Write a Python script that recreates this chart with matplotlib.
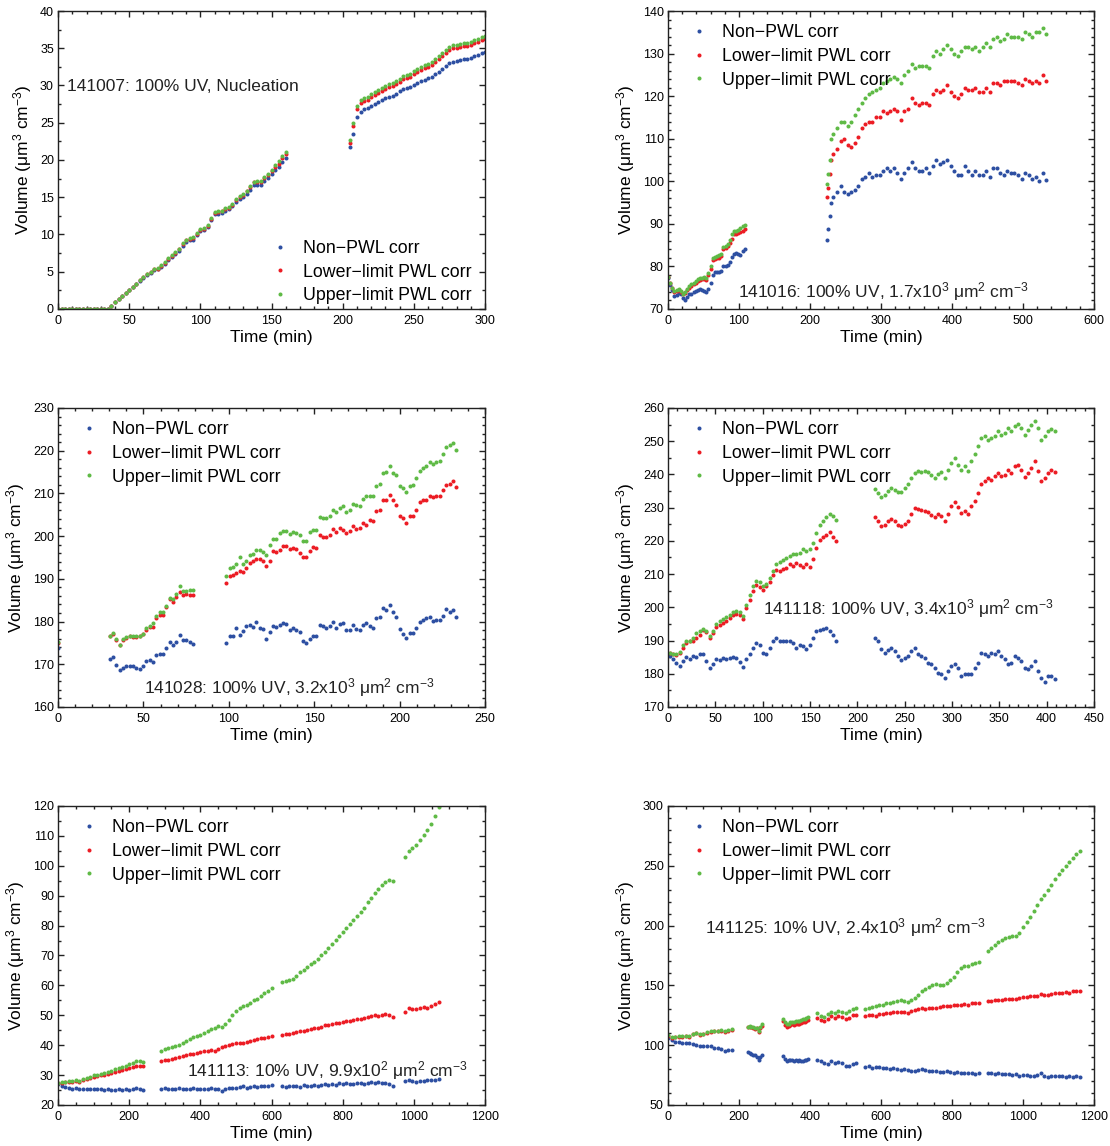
"""
Six panels: aerosol volume vs. time for the chamber runs, with and without
particle wall-loss (PWL) correction. Values were read off the original figure.
"""
import numpy as np
import matplotlib
matplotlib.use("Agg")
import matplotlib.pyplot as plt
from matplotlib.ticker import MultipleLocator

plt.rcParams["font.family"] = ["Liberation Sans", "DejaVu Sans"]
plt.rcParams["mathtext.default"] = "regular"

BLUE = "#2D4FA2"
RED = "#EC1C24"
GREEN = "#5FBA46"
LABELS = ["Non\u2212PWL corr", "Lower\u2212limit PWL corr", "Upper\u2212limit PWL corr"]

# ---------------- 141007 ----------------
t1a = np.linspace(0, 160, 65)
b1a = [0.0] * 15 + [0.4, 1.0, 1.4, 1.8, 2.2, 2.6, 2.9, 3.3, 3.8, 4.2, 4.6, 4.8, 5.2, 5.3, 5.7, 6.1, 6.6, 7.0, 7.4, 7.8,
                    8.5, 9.0, 9.2, 9.3, 9.9, 10.4, 10.6, 11.0, 11.9, 12.7, 12.8, 12.9, 13.2, 13.4, 13.8, 14.3, 14.7, 15.0, 15.5, 16.0,
                    16.6, 16.7, 16.7, 17.2, 17.6, 18.1, 18.6, 19.0, 19.7, 20.3]
r1a = [0.0] * 15 + [0.4, 1.0, 1.4, 1.8, 2.2, 2.6, 3.0, 3.4, 3.9, 4.3, 4.7, 4.9, 5.3, 5.4, 5.8, 6.2, 6.7, 7.1, 7.5, 8.0,
                    8.7, 9.2, 9.4, 9.5, 10.1, 10.6, 10.8, 11.2, 12.1, 12.9, 13.0, 13.1, 13.4, 13.6, 14.0, 14.6, 15.0, 15.3, 15.8, 16.4,
                    17.0, 17.1, 17.1, 17.6, 18.0, 18.5, 19.1, 19.5, 20.2, 20.8]
g1a = [0.0] * 15 + [0.4, 1.0, 1.4, 1.8, 2.2, 2.6, 3.0, 3.4, 3.9, 4.3, 4.7, 5.0, 5.4, 5.5, 5.9, 6.3, 6.8, 7.2, 7.6, 8.1,
                    8.8, 9.3, 9.5, 9.6, 10.2, 10.7, 10.9, 11.3, 12.2, 13.0, 13.1, 13.2, 13.5, 13.7, 14.1, 14.7, 15.1, 15.4, 15.9, 16.5,
                    17.1, 17.2, 17.2, 17.7, 18.1, 18.7, 19.3, 19.8, 20.5, 21.1]
t1b = np.linspace(205, 300, 39)
b1b = [21.8, 23.5, 25.8, 26.5, 26.8, 27.0, 27.3, 27.5, 27.8, 28.0, 28.3, 28.5, 28.6, 28.9, 29.2, 29.5, 29.6, 29.8, 30.0, 30.3,
       30.6, 30.8, 31.0, 31.2, 31.5, 31.8, 32.2, 32.6, 33.0, 33.2, 33.3, 33.4, 33.5, 33.5, 33.7, 33.9, 34.1, 34.3, 34.5]
r1b = [22.3, 24.5, 26.8, 27.6, 27.9, 28.1, 28.4, 28.7, 29.0, 29.2, 29.5, 29.8, 29.9, 30.2, 30.5, 30.9, 31.0, 31.2, 31.5, 31.8,
       32.1, 32.3, 32.5, 32.8, 33.1, 33.5, 33.9, 34.3, 34.8, 35.0, 35.1, 35.2, 35.3, 35.3, 35.5, 35.7, 35.9, 36.1, 36.3]
g1b = [22.7, 25.0, 27.2, 28.0, 28.3, 28.5, 28.8, 29.1, 29.4, 29.6, 29.9, 30.2, 30.3, 30.6, 30.9, 31.3, 31.4, 31.6, 31.9, 32.2,
       32.5, 32.7, 32.9, 33.2, 33.5, 33.9, 34.3, 34.7, 35.2, 35.4, 35.5, 35.6, 35.7, 35.7, 35.9, 36.1, 36.3, 36.5, 36.7]

# ---------------- 141016 ----------------
t2a = np.linspace(0, 108, 37)
b2a = [77.3, 75.7, 74.5, 73.0, 73.2, 73.8, 73.5, 72.5, 72.2, 72.8, 73.4, 73.6, 74.1, 74.3, 74.5, 74.6, 74.5, 74.3, 74.1, 74.8,
       76.1, 78.0, 78.8, 78.7, 78.6, 78.9, 80.0, 80.2, 80.4, 81.0, 82.3, 82.8, 83.1, 82.8, 82.7, 83.5, 84.0]
r2a = [77.4, 76.0, 75.0, 74.0, 74.2, 74.5, 74.0, 73.5, 73.8, 74.5, 75.0, 75.5, 75.8, 76.2, 76.5, 76.8, 77.0, 77.0, 76.8, 78.0,
       79.5, 81.5, 81.8, 82.0, 82.0, 82.5, 84.0, 84.3, 84.8, 85.5, 86.5, 87.5, 87.5, 87.8, 88.0, 88.3, 88.8]
g2a = [77.5, 76.2, 75.0, 74.2, 74.4, 74.6, 74.2, 73.6, 74.0, 74.8, 75.3, 75.8, 76.2, 76.6, 77.0, 77.2, 77.3, 77.4, 77.2, 78.5,
       80.0, 82.0, 82.2, 82.4, 82.6, 83.0, 84.5, 84.8, 85.3, 86.3, 87.5, 88.3, 88.3, 88.6, 89.0, 89.5, 89.8]
t2b = np.concatenate([[224, 226, 228, 230], np.linspace(233, 533, 61)])
b2b = [86.3, 88.7, 91.8, 95.0,
       96.3, 97.5, 99.0, 97.5, 97.0, 97.5, 98.0, 99.0, 100.5, 101.0, 102.0, 101.0, 101.5, 101.5, 102.5, 103.0, 102.5, 103.0, 102.0, 100.5,
       102.0, 103.0, 104.5, 103.0, 102.5, 102.5, 103.0, 102.0, 103.5, 105.0, 104.0, 104.5, 105.0, 103.5, 102.5, 101.5, 101.5, 103.5, 102.5, 101.5,
       102.5, 101.5, 101.5, 102.5, 101.0, 103.0, 103.0, 102.0, 101.5, 102.5, 102.0, 102.0, 101.5, 100.5, 102.0, 101.5, 100.5, 101.0, 100.0, 102.0, 100.2]
r2b = [96.2, 98.5, 101.8, 105.0,
       106.5, 107.5, 109.5, 110.0, 108.5, 108.0, 109.0, 110.5, 112.5, 113.5, 114.0, 114.0, 115.0, 115.0, 116.5, 116.0, 116.5, 117.0, 116.5, 114.5,
       116.5, 117.0, 119.5, 118.5, 118.0, 118.5, 118.5, 118.0, 120.5, 121.5, 121.0, 121.5, 122.5, 121.0, 120.0, 119.5, 120.5, 122.0, 121.5, 121.5,
       122.0, 121.0, 121.0, 122.0, 121.0, 123.0, 123.0, 122.5, 123.5, 123.5, 123.5, 123.5, 123.0, 122.5, 124.0, 123.5, 123.0, 123.5, 123.0, 125.0, 123.5]
g2b = [99.3, 101.8, 105.0, 110.0,
       111.0, 112.5, 114.0, 114.0, 113.0, 114.0, 115.5, 117.0, 118.5, 119.5, 120.5, 121.0, 121.5, 122.0, 123.0, 123.5, 124.0, 124.5, 124.0, 123.0,
       125.0, 126.0, 127.5, 126.5, 127.0, 127.0, 127.0, 126.5, 129.5, 130.5, 130.0, 131.0, 132.0, 131.0, 130.0, 129.5, 130.5, 131.5, 131.5, 131.0,
       131.5, 130.5, 131.5, 132.5, 131.5, 133.5, 134.0, 133.0, 133.5, 134.5, 134.0, 134.0, 134.0, 133.5, 135.0, 134.5, 134.0, 135.0, 135.0, 136.0, 134.5]

# ---------------- 141028 ----------------
t3a = [0.0]
b3a = [173.8]
r3a = [174.9]
g3a = [175.1]
t3b = np.linspace(30.2, 79.0, 26)
b3b = [171.2, 171.7, 169.9, 168.6, 169.1, 169.5, 169.7, 169.5, 169.2, 169.0, 169.6, 170.7, 170.9, 170.5, 172.1, 172.5, 172.3,
       173.9, 175.3, 174.6, 175.3, 176.9, 175.7, 175.6, 175.3, 174.8]
r3b = [176.5, 177.1, 175.7, 174.6, 175.6, 176.2, 176.5, 176.3, 176.3, 176.5, 177.1, 178.1, 178.7, 178.8, 180.9, 181.6, 181.6,
       183.3, 185.3, 184.5, 185.7, 187.0, 186.1, 186.5, 186.3, 186.1]
g3b = [176.6, 177.4, 175.8, 174.6, 175.8, 176.3, 176.7, 176.5, 176.5, 176.6, 177.2, 178.4, 179.0, 179.6, 181.4, 182.2, 182.2,
       183.6, 185.6, 185.2, 186.4, 188.3, 187.1, 187.1, 187.3, 187.3]
t3c = np.linspace(98.6, 233.2, 70)
b3c = [174.9, 176.5, 176.5, 178.5, 176.9, 177.7, 178.9, 179.1, 178.8, 179.8, 178.5, 178.2, 175.9, 177.5, 178.9, 178.7, 179.3, 179.6,
       179.4, 178.1, 178.5, 178.1, 177.5, 175.4, 175.0, 175.9, 176.5, 176.5, 179.3, 178.9, 178.5, 178.9, 180.0, 178.5, 179.4, 179.6,
       178.1, 178.1, 179.3, 178.3, 178.1, 179.3, 179.6, 178.9, 178.5, 180.8, 181.0, 183.2, 182.8, 183.9, 182.2, 181.1, 178.3, 177.2,
       176.1, 177.3, 177.3, 178.5, 180.0, 180.4, 180.8, 181.0, 180.2, 180.3, 180.3, 181.4, 183.0, 182.2, 182.8, 181.0]
r3c = [189.0, 190.7, 191.0, 191.4, 191.9, 191.7, 192.5, 193.7, 194.1, 194.7, 194.7, 194.2, 192.9, 194.2, 196.4, 196.3, 196.8, 197.8,
       197.8, 197.1, 197.2, 197.1, 196.0, 195.0, 195.0, 196.4, 197.4, 197.2, 200.2, 199.9, 199.9, 200.3, 201.7, 201.0, 201.9, 201.5,
       200.7, 201.1, 202.3, 201.7, 201.9, 203.1, 202.5, 203.8, 203.5, 205.8, 206.0, 208.5, 208.5, 209.7, 208.5, 207.4, 204.8, 204.2,
       203.1, 204.6, 204.8, 206.2, 208.1, 208.5, 208.5, 209.3, 209.1, 209.5, 209.5, 210.9, 211.9, 212.2, 213.0, 211.4]
g3c = [190.6, 192.5, 192.7, 193.5, 195.0, 193.5, 194.1, 195.5, 195.8, 196.8, 196.8, 196.3, 195.5, 198.0, 199.4, 199.4, 200.7, 201.3,
       201.3, 200.5, 201.0, 200.7, 200.2, 198.8, 198.9, 201.0, 201.5, 201.5, 204.4, 204.2, 204.2, 204.6, 206.0, 205.6, 206.6, 207.0,
       205.6, 206.2, 207.5, 207.2, 207.1, 208.8, 209.3, 209.5, 209.5, 211.7, 212.2, 214.8, 215.0, 216.3, 214.8, 214.4, 211.7, 211.3,
       210.3, 211.7, 212.0, 213.5, 215.3, 215.9, 216.3, 217.4, 216.9, 217.4, 217.7, 219.2, 220.8, 221.4, 221.8, 220.2]

# ---------------- 141118 ----------------
t4a = np.linspace(1.8, 177.8, 51)
b4a = [185.3, 184.3, 183.3, 182.3, 183.8, 185.0, 184.3, 185.3, 185.0, 185.8, 186.0, 183.8, 181.6, 182.8, 184.3, 184.0, 184.6,
       184.3, 184.8, 185.0, 184.6, 183.6, 182.0, 184.3, 185.8, 187.6, 189.3, 188.6, 186.3, 185.8, 187.8, 189.8, 190.8, 189.8,
       190.0, 189.8, 190.0, 189.3, 187.8, 188.8, 188.3, 187.3, 188.8, 190.8, 192.8, 193.3, 193.6, 193.8, 192.8, 191.8, 189.8]
r4a = [186.3, 185.8, 185.6, 186.3, 187.8, 189.3, 189.8, 190.0, 190.8, 191.8, 193.3, 192.6, 190.8, 192.3, 194.0, 194.8, 195.3,
       196.0, 196.8, 197.6, 198.0, 197.6, 196.6, 199.8, 202.3, 205.0, 206.6, 206.0, 205.3, 206.3, 207.6, 209.8, 211.1, 210.9,
       211.4, 211.9, 212.9, 212.4, 213.4, 212.7, 212.1, 213.1, 212.1, 214.4, 217.9, 220.4, 221.1, 221.9, 222.7, 221.1, 219.9]
g4a = [186.3, 185.8, 185.8, 186.6, 188.6, 189.8, 190.0, 190.8, 192.3, 193.0, 193.6, 192.8, 191.3, 193.0, 195.0, 195.8, 196.6,
       197.0, 197.8, 198.6, 199.0, 198.6, 197.3, 200.8, 203.6, 206.3, 207.8, 207.6, 206.3, 207.0, 208.8, 210.9, 212.9, 213.7,
       214.1, 214.9, 215.4, 215.9, 215.9, 216.4, 217.4, 216.9, 217.4, 219.4, 222.4, 224.9, 225.9, 227.1, 228.1, 227.4, 226.4]
t4b = np.linspace(218.3, 408.4, 55)
b4b = [190.8, 189.8, 187.3, 186.3, 187.0, 187.8, 186.8, 185.3, 184.0, 184.6, 185.3, 186.8, 187.6, 186.0, 185.3, 184.6, 183.3,
       182.8, 181.8, 180.3, 179.8, 178.6, 180.8, 182.3, 183.0, 181.8, 179.3, 179.8, 179.8, 179.8, 181.8, 183.3, 186.3, 185.8,
       185.3, 186.3, 185.8, 186.8, 185.3, 184.3, 182.8, 183.3, 185.3, 184.8, 183.8, 181.8, 181.3, 182.3, 183.8, 180.8, 178.8,
       177.6, 179.3, 179.3, 178.3]
r4b = [227.1, 225.9, 224.4, 224.9, 225.9, 226.7, 225.9, 224.7, 224.4, 225.1, 226.1, 228.1, 229.9, 229.7, 229.4, 228.9, 228.7,
       227.7, 227.1, 228.1, 227.4, 225.9, 228.1, 230.4, 231.7, 230.1, 228.4, 228.9, 228.1, 230.4, 231.9, 234.4, 237.1, 237.9,
       238.9, 238.4, 239.4, 240.4, 239.4, 239.9, 241.4, 240.4, 242.4, 242.9, 241.4, 239.1, 240.4, 241.9, 244.0, 240.9, 238.1,
       238.9, 240.4, 241.4, 240.7]
g4b = [235.7, 234.4, 233.1, 233.7, 234.9, 235.9, 235.4, 234.7, 234.7, 235.9, 237.1, 238.9, 240.4, 240.9, 240.7, 241.1, 240.7,
       239.9, 238.9, 240.1, 240.7, 238.9, 241.4, 243.5, 245.0, 242.9, 241.4, 242.4, 241.1, 244.0, 246.0, 248.5, 251.0, 251.5,
       250.5, 251.0, 251.5, 253.0, 252.0, 252.5, 254.0, 253.0, 254.5, 255.2, 254.0, 252.0, 253.5, 255.0, 256.2, 254.0, 250.5,
       251.5, 253.0, 253.8, 253.2]

# ---------------- 141113 ----------------
t5a = np.linspace(0, 240, 25)
b5a = [27.0, 26.5, 26.0, 25.8, 25.5, 25.6, 25.4, 25.5, 25.3, 25.5, 25.2, 25.4, 25.3, 25.0, 25.2, 25.1, 25.0, 25.3, 25.0, 25.2,
       24.9, 25.5, 25.8, 25.3, 25.0]
r5a = [27.3, 27.5, 27.6, 27.8, 27.8, 28.0, 27.8, 28.3, 28.6, 29.0, 29.4, 29.6, 29.9, 30.1, 30.4, 30.7, 31.0, 31.4, 31.7, 32.0,
       32.4, 32.6, 33.0, 33.2, 33.0]
g5a = [27.3, 27.6, 27.7, 27.9, 28.0, 28.2, 28.0, 28.6, 29.0, 29.4, 29.9, 30.1, 30.5, 30.8, 31.1, 31.5, 31.9, 32.3, 32.7, 33.0,
       33.6, 34.0, 34.6, 34.8, 34.5]
t5b = np.linspace(290, 600, 32)
b5b = [25.5, 25.8, 25.4, 25.2, 25.5, 25.6, 25.3, 25.5, 25.4, 25.6, 25.3, 25.5, 25.2, 25.4, 25.6, 25.5, 25.3, 24.6, 25.5, 25.8,
       25.6, 25.8, 26.0, 26.2, 25.8, 26.0, 26.3, 25.9, 26.2, 26.4, 26.5, 26.6]
r5b = [34.8, 35.0, 35.2, 35.4, 35.8, 36.0, 36.3, 36.6, 36.9, 37.1, 37.4, 37.6, 37.9, 38.1, 38.4, 38.2, 38.8, 39.4, 39.8, 40.0,
       40.3, 40.6, 40.8, 40.8, 41.0, 41.5, 41.8, 42.0, 42.3, 42.5, 42.8, 43.0]
g5b = [38.0, 38.6, 39.0, 39.3, 39.6, 40.2, 40.8, 41.4, 42.0, 42.6, 43.0, 43.5, 44.2, 44.8, 45.3, 45.8, 46.5, 46.0, 47.2, 48.5,
       50.0, 51.5, 52.5, 53.2, 53.6, 54.2, 55.0, 55.6, 56.5, 57.5, 58.2, 59.2]
t5c = np.linspace(630, 940, 32)
b5c = [26.3, 26.0, 26.4, 26.2, 26.5, 26.0, 26.6, 26.4, 26.5, 26.8, 26.5, 26.6, 26.9, 26.7, 27.0, 26.8, 27.2, 27.0, 27.3, 27.0,
       27.1, 27.4, 27.2, 27.0, 27.5, 27.8, 27.4, 27.6, 27.5, 27.3, 27.0, 26.2]
r5c = [43.5, 43.7, 43.9, 44.0, 44.3, 44.6, 44.8, 45.1, 45.5, 45.6, 45.8, 46.2, 46.6, 46.9, 47.1, 47.3, 47.5, 47.8, 48.0, 48.2,
       48.4, 48.6, 48.9, 49.1, 49.4, 49.8, 50.1, 49.9, 50.2, 50.4, 50.0, 49.5]
g5c = [61.0, 61.3, 61.8, 62.2, 63.2, 64.4, 65.0, 66.0, 67.0, 67.8, 68.8, 70.0, 71.3, 72.6, 74.0, 75.3, 76.5, 77.8, 79.2, 80.5,
       82.0, 83.2, 84.6, 86.0, 87.8, 89.2, 90.8, 92.2, 93.5, 94.6, 95.2, 94.8]
t5d = np.linspace(975, 1069.5, 10)
b5d = [28.0, 28.3, 28.0, 27.8, 28.0, 27.9, 28.2, 28.4, 28.3, 28.7]
r5d = [51.0, 52.6, 52.2, 52.0, 52.5, 52.8, 52.6, 53.2, 53.8, 54.4]
g5d = [102.8, 105.0, 105.8, 106.8, 108.5, 110.2, 111.8, 114.0, 116.5, 119.8]

# ---------------- 141125 ----------------
t6a = np.linspace(0, 180, 19)
b6a = [106, 104, 103, 103, 102, 101.5, 102, 101, 100, 99, 99, 99.5, 99, 98, 97.5, 97, 95.5, 96, 96]
r6a = [108, 106, 106.5, 107, 107, 107.5, 107, 109, 110, 108.5, 109, 110.5, 111, 111.5, 111.5, 112, 111, 112, 113]
g6a = [108.5, 106.5, 107, 107.5, 107.5, 108, 107.5, 109.5, 110.5, 109, 109.5, 111, 111.5, 112, 112, 112.5, 111.5, 112.5, 113.5]
t6b = np.linspace(225, 265, 9)
b6b = [94, 93.5, 93, 92, 91.5, 90, 88, 90, 92]
r6b = [115, 115.5, 115, 114.5, 113.5, 114, 111, 114, 116]
g6b = [115.5, 116, 115.5, 115, 114.5, 114.5, 112, 115, 118]
t6c = np.linspace(325, 395, 15)
b6c = [91, 88.5, 87, 87.5, 88, 87.5, 86.5, 87.5, 87, 87.5, 86.5, 87, 87.5, 88, 88.5]
r6c = [120, 117, 115.5, 116, 117, 117.5, 117, 118, 117.5, 118, 118.5, 119, 119.5, 120.5, 121]
g6c = [122, 119, 117.5, 118, 119, 119.5, 119, 120.5, 120, 120.5, 121, 121.5, 122, 123, 123.5]
t6d = np.linspace(420, 530, 12)
b6d = [88, 87, 85, 84, 86.5, 85.5, 86, 85, 83, 82.5, 84.5, 85]
r6d = [122.5, 121, 120, 122, 124, 123, 124, 123.5, 122, 123, 125, 125.5]
g6d = [126.5, 124.5, 123.5, 126, 128, 127, 128.5, 128, 126.5, 128.5, 130, 131]
t6e = np.linspace(555, 875, 33)
b6e = [82, 82.5, 81, 82, 81.5, 80.5, 81, 80, 81, 80, 79.5, 80, 79, 78, 78.5, 79, 80, 79, 78.5, 78,
       78.5, 77.5, 77.5, 78, 77.5, 77, 77.5, 77, 76.5, 77, 77, 76, 77]
r6e = [124.5, 125, 125.5, 124.5, 126, 126, 126.5, 127, 127.5, 128, 128, 127.5, 127, 128.5, 129, 130, 131, 130.5, 131, 131.5,
       131, 132, 132.5, 132.5, 133, 133.5, 133.5, 134, 134.5, 134, 135, 135.5, 135]
g6e = [130, 131, 132, 132.5, 133.5, 134, 135, 135.5, 136.5, 137, 137.5, 137, 136.5, 137.5, 139.5, 142, 145, 147, 149, 150.5,
       151, 150.5, 150, 152, 154.5, 157, 161, 164.5, 166, 166.5, 167.5, 168.5, 169.5]
t6f = np.linspace(900, 1160, 27)
b6f = [77, 76.5, 76, 76.5, 75.5, 75.5, 76, 75, 75.5, 74.5, 75, 75, 74.5, 74.5, 75, 76.5, 74, 73.5, 74, 74.5,
       74, 74, 73.5, 74.5, 73, 74, 73]
r6f = [137, 137, 137.5, 138, 138, 138.5, 138.5, 139, 139, 139.5, 140, 140.5, 141, 141, 141.5, 143, 142, 142, 143, 143.5,
       144, 144, 144.5, 144, 145, 145.5, 145]
g6f = [179, 181, 184, 186.5, 188, 189.5, 190.5, 191, 191.5, 194, 199, 203, 207, 212, 217, 222, 225.5, 229.5, 234, 239,
       243, 246.5, 249.5, 253, 256.5, 259.5, 262]

PANELS = [
    dict(segs=[(t1a, b1a, r1a, g1a), (t1b, b1b, r1b, g1b)], xlim=(0, 300), ylim=(0, 40),
         xt=(50, 10), yt=(5, 2.5), note="141007: 100% UV, Nucleation", note_xy=(0.021, 0.745), note_va="center",
         leg_xy=(0.503, 0.232)),
    dict(segs=[(t2a, b2a, r2a, g2a), (t2b, b2b, r2b, g2b)], xlim=(0, 600), ylim=(70, 140),
         xt=(100, 20), yt=(10, 2), note="141016: 100% UV, 1.7x10$^3$ \u03bcm$^2$ cm$^{\u22123}$", note_xy=(0.164, 0.04),
         note_va="baseline", leg_xy=(0.056, 0.956)),
    dict(segs=[(t3a, b3a, r3a, g3a), (t3b, b3b, r3b, g3b), (t3c, b3c, r3c, g3c)], xlim=(0, 250), ylim=(160, 230),
         xt=(50, 10), yt=(10, 2), note="141028: 100% UV, 3.2x10$^3$ \u03bcm$^2$ cm$^{\u22123}$", note_xy=(0.201, 0.047),
         note_va="baseline", leg_xy=(0.056, 0.956)),
    dict(segs=[(t4a, b4a, r4a, g4a), (t4b, b4b, r4b, g4b)], xlim=(0, 450), ylim=(170, 260),
         xt=(50, 10), yt=(10, 5), note="141118: 100% UV, 3.4x10$^3$ \u03bcm$^2$ cm$^{\u22123}$", note_xy=(0.223, 0.308),
         note_va="baseline", leg_xy=(0.056, 0.956)),
    dict(segs=[(t5a, b5a, r5a, g5a), (t5b, b5b, r5b, g5b), (t5c, b5c, r5c, g5c), (t5d, b5d, r5d, g5d)],
         xlim=(0, 1200), ylim=(20, 120), xt=(200, 50), yt=(10, 5),
         note="141113: 10% UV, 9.9x10$^2$ \u03bcm$^2$ cm$^{\u22123}$", note_xy=(0.302, 0.094), note_va="baseline",
         leg_xy=(0.056, 0.956)),
    dict(segs=[(t6a, b6a, r6a, g6a), (t6b, b6b, r6b, g6b), (t6c, b6c, r6c, g6c), (t6d, b6d, r6d, g6d),
               (t6e, b6e, r6e, g6e), (t6f, b6f, r6f, g6f)],
         xlim=(0, 1200), ylim=(50, 300), xt=(200, 50), yt=(50, 10),
         note="141125: 10% UV, 2.4x10$^3$ \u03bcm$^2$ cm$^{\u22123}$", note_xy=(0.087, 0.575), note_va="baseline",
         leg_xy=(0.056, 0.956)),
]

# axes rectangles in figure fractions (left, bottom, width, height)
RECTS = [
    (0.0523, 0.7304, 0.3847, 0.2600), (0.6018, 0.7304, 0.3838, 0.2600),
    (0.0523, 0.3831, 0.3847, 0.2609), (0.6018, 0.3831, 0.3838, 0.2609),
    (0.0523, 0.0358, 0.3847, 0.2609), (0.6018, 0.0358, 0.3838, 0.2609),
]


def draw_panel(ax, p):
    t = np.concatenate([np.asarray(s[0], float) for s in p["segs"]])
    handles = []
    for k, color in enumerate([BLUE, RED, GREEN]):
        v = np.concatenate([np.asarray(s[k + 1], float) for s in p["segs"]])
        (h,) = ax.plot(t, v, linestyle="none", marker="o", ms=2.9, mew=0, color=color, label=LABELS[k])
        handles.append(h)
    ax.set_xlim(*p["xlim"])
    ax.set_ylim(*p["ylim"])
    ax.xaxis.set_major_locator(MultipleLocator(p["xt"][0]))
    ax.xaxis.set_minor_locator(MultipleLocator(p["xt"][1]))
    ax.yaxis.set_major_locator(MultipleLocator(p["yt"][0]))
    ax.yaxis.set_minor_locator(MultipleLocator(p["yt"][1]))
    ax.tick_params(which="both", direction="in", top=True, right=True, width=1.0, labelsize=9, color="#222222")
    ax.tick_params(which="major", length=4.5)
    ax.tick_params(which="minor", length=2.4)
    ax.tick_params(axis="x", pad=4.5)
    ax.tick_params(axis="y", pad=3)
    for sp in ax.spines.values():
        sp.set_linewidth(1.0)
        sp.set_color("#222222")
    ax.set_xlabel("Time (min)", fontsize=12.5, labelpad=2)
    ax.set_ylabel("Volume (\u03bcm$^3$ cm$^{\u22123}$)", fontsize=12.5, labelpad=4)
    ax.text(p["note_xy"][0], p["note_xy"][1], p["note"], transform=ax.transAxes, fontsize=12.5,
            va=p["note_va"], ha="left", color="#222222")
    ax.legend(handles=handles, loc="upper left", bbox_to_anchor=p["leg_xy"], frameon=False, fontsize=12.8,
              numpoints=1, handlelength=0.8, handletextpad=0.9, labelspacing=0.38, borderpad=0, borderaxespad=0,
              markerscale=1.0)


fig = plt.figure(figsize=(11.1, 11.46), dpi=100)
for rect, p in zip(RECTS, PANELS):
    ax = fig.add_axes(rect)
    draw_panel(ax, p)

fig.savefig("out.png", dpi=100)
